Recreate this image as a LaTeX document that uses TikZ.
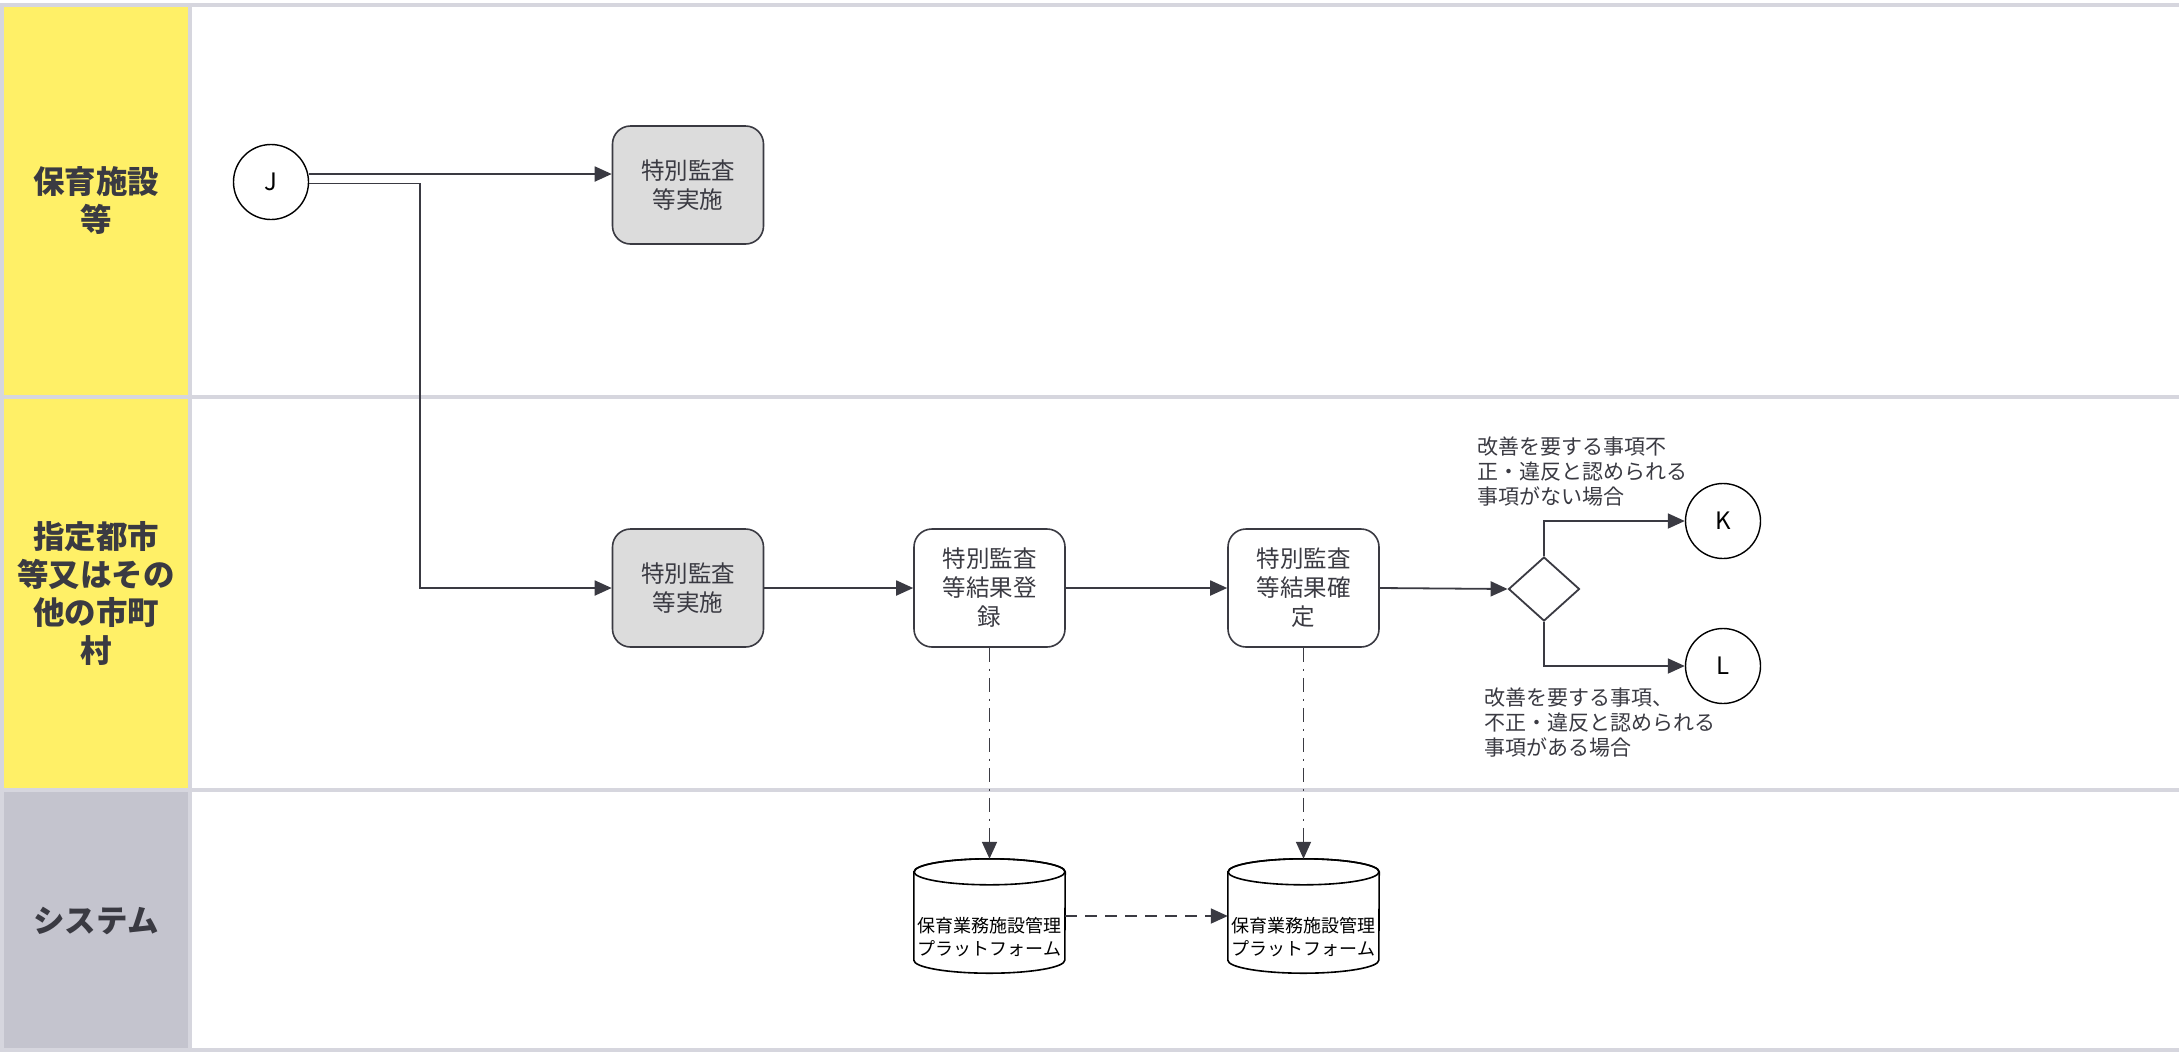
\documentclass[tikz,border=0pt]{standalone}
\usepackage{fontspec}
\setmainfont{Noto Sans CJK JP}
\usetikzlibrary{arrows.meta,shapes.geometric,calc}
\definecolor{laneY}{HTML}{FFF067}
\definecolor{laneG}{HTML}{C4C4CE}
\definecolor{sepC}{HTML}{D6D6DE}
\definecolor{ink}{HTML}{3A3A42}
\definecolor{boxG}{HTML}{DCDCDC}
\tikzset{
  sepline/.style={draw=sepC,line width=3.5pt},
  lanelabel/.style={align=center,text=ink,font=\fontsize{31.5}{38}\selectfont\bfseries},
  procbox/.style={draw=ink,line width=1.6pt,rounded corners=18pt,minimum width=151pt,minimum height=118pt,inner sep=0pt,align=center,text=ink,font=\fontsize{23.5}{29}\selectfont},
  grey/.style={fill=boxG},
  conn/.style={draw=black,line width=1.4pt,circle,minimum size=75pt,inner sep=0pt,font=\fontsize{24}{28}\selectfont},
  decide/.style={draw=ink,line width=1.8pt,diamond,aspect=1.1,minimum width=71pt,minimum height=64pt,inner sep=0pt},
  arr/.style={draw=ink,line width=1.8pt,-{Triangle[length=17pt,width=15pt]}},
  ddarr/.style={draw=ink,line width=1.6pt,dash pattern=on 14pt off 7pt on 2pt off 7pt,-{Triangle[length=17pt,width=15pt]}},
  dsharr/.style={draw=ink,line width=1.8pt,dash pattern=on 12pt off 8pt,-{Triangle[length=17pt,width=15pt]}},
  cylbox/.style={minimum width=151pt,minimum height=114pt,inner sep=0pt},
  cyltext/.style={align=center,text=black,font=\fontsize{18}{23.5}\selectfont},
  condtext/.style={align=left,anchor=west,text=ink,font=\fontsize{21}{25}\selectfont},
  cylline/.style={draw=black,line width=1.6pt}
}
\begin{document}
\begin{tikzpicture}[x=1pt,y=-1pt]
\useasboundingbox (0,0) rectangle (2179,1053);
\fill[white] (0,0) rectangle (2179,1053);
% lanes
\fill[laneY] (2,5) rectangle (190,397);
\fill[laneY] (2,397) rectangle (190,790);
\fill[laneG] (2,790) rectangle (190,1050);
\draw[sepline] (0,5) -- (2179,5);
\draw[sepline] (0,397) -- (2179,397);
\draw[sepline] (0,790) -- (2179,790);
\draw[sepline] (0,1050) -- (2179,1050);
\draw[sepline] (2,5) -- (2,1050);
\draw[sepline] (190,5) -- (190,1050);
\node[lanelabel] (h1) at (96,201) {保育施設\\等};
\node[lanelabel] (h2) at (96,593) {指定都市\\等又はその\\他の市町\\村};
\node[lanelabel] (h3) at (96,921) {システム};
% nodes
\node[conn] (J) at (271,182) {J};
\node[procbox,grey] (B1) at (688,185) {特別監査\\等実施};
\node[procbox,grey] (B2) at (688,588) {特別監査\\等実施};
\node[procbox] (B3) at (989.5,588) {特別監査\\等結果登\\録};
\node[procbox] (B4) at (1303.5,588) {特別監査\\等結果確\\定};
\node[decide] (D) at (1544,589) {};
\node[conn] (K) at (1723,521) {K};
\node[conn] (L) at (1723,666) {L};
\node[condtext] (t1) at (1474,472) {改善を要する事項不\\正・違反と認められる\\事項がない場合};
\node[condtext] (t2) at (1481,723) {改善を要する事項、\\不正・違反と認められる\\事項がある場合};
% cylinders
\node[cylbox] (C1) at (989.5,916) {};
\node[cylbox] (C2) at (1303.5,916) {};
\foreach \c in {C1,C2}{
  \draw[cylline,fill=white] ([yshift=-13pt]\c.north west) -- ([yshift=13pt]\c.south west)
    arc[start angle=180,end angle=360,x radius=75.5pt,y radius=13pt]
    -- ([yshift=-13pt]\c.north east)
    arc[start angle=0,end angle=180,x radius=75.5pt,y radius=13pt] -- cycle;
  \draw[cylline] ([yshift=-13pt]\c.north) ellipse[x radius=75.5pt,y radius=13pt];
}
\node[cyltext] (C1t) at ([yshift=-21pt]C1.center) {保育業務施設管理\\プラットフォーム};
\node[cyltext] (C2t) at ([yshift=-21pt]C2.center) {保育業務施設管理\\プラットフォーム};
% connectors
\coordinate (bend) at (420,183.5);
\draw[arr] ([yshift=8pt]J.east) -- ([yshift=8pt]J.east -| B1.west);
\draw[arr] ([yshift=-1.5pt]J.east) -- (bend) |- (B2.west);
\draw[arr] (B2) -- (B3);
\draw[arr] (B3) -- (B4);
\draw[arr] (B4.east) -- (D.west);
\draw[arr] (D.north) |- (K.west);
\draw[arr] (D.south) |- (L.west);
\draw[ddarr] (B3.south) -- (C1.north);
\draw[ddarr] (B4.south) -- (C2.north);
\draw[dsharr] (C1.east) -- (C2.west);
\end{tikzpicture}
\end{document}
